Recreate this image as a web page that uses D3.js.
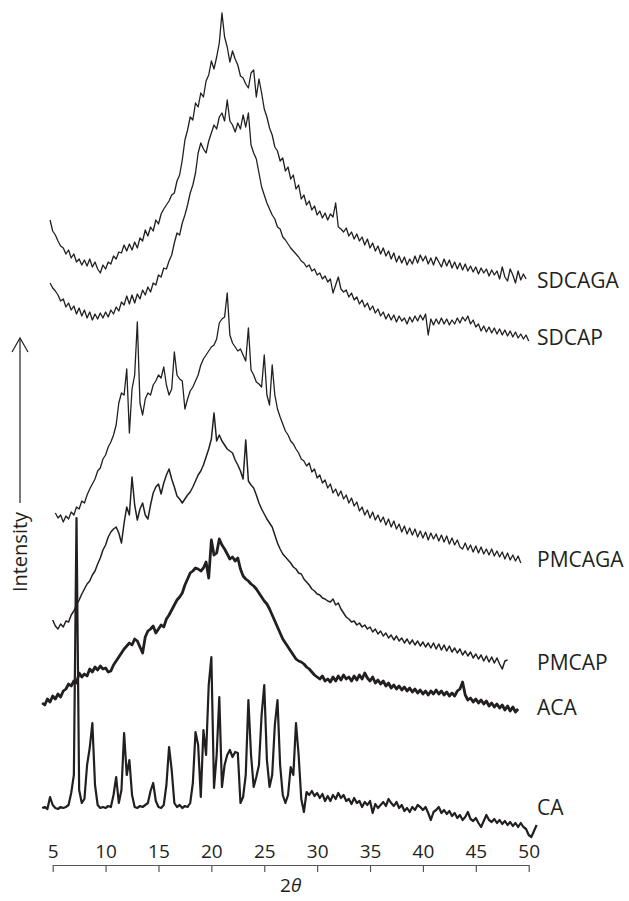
<!DOCTYPE html>
<html>
<head>
<meta charset="utf-8">
<script src="https://cdn.jsdelivr.net/npm/d3@7"></script>
<style>
  body { margin: 0; background: #fff; }
  svg text { font-family: "Open Sans", sans-serif; fill: #231f20; }
</style>
</head>
<body>
<div id="chart"></div>
<script>
// 2theta scan grid (deg)
const twoTheta = [
  4, 4.25, 4.5, 4.75, 5, 5.25, 5.5, 5.75, 6, 6.25, 6.5, 6.75, 7, 7.25, 7.5, 7.75,
  8, 8.25, 8.5, 8.75, 9, 9.25, 9.5, 9.75, 10, 10.25, 10.5, 10.75, 11, 11.25, 11.5, 11.75,
  12, 12.25, 12.5, 12.75, 13, 13.25, 13.5, 13.75, 14, 14.25, 14.5, 14.75, 15, 15.25, 15.5, 15.75,
  16, 16.25, 16.5, 16.75, 17, 17.25, 17.5, 17.75, 18, 18.25, 18.5, 18.75, 19, 19.25, 19.5, 19.75,
  20, 20.25, 20.5, 20.75, 21, 21.25, 21.5, 21.75, 22, 22.25, 22.5, 22.75, 23, 23.25, 23.5, 23.75,
  24, 24.25, 24.5, 24.75, 25, 25.25, 25.5, 25.75, 26, 26.25, 26.5, 26.75, 27, 27.25, 27.5, 27.75,
  28, 28.25, 28.5, 28.75, 29, 29.25, 29.5, 29.75, 30, 30.25, 30.5, 30.75, 31, 31.25, 31.5, 31.75,
  32, 32.25, 32.5, 32.75, 33, 33.25, 33.5, 33.75, 34, 34.25, 34.5, 34.75, 35, 35.25, 35.5, 35.75,
  36, 36.25, 36.5, 36.75, 37, 37.25, 37.5, 37.75, 38, 38.25, 38.5, 38.75, 39, 39.25, 39.5, 39.75,
  40, 40.25, 40.5, 40.75, 41, 41.25, 41.5, 41.75, 42, 42.25, 42.5, 42.75, 43, 43.25, 43.5, 43.75,
  44, 44.25, 44.5, 44.75, 45, 45.25, 45.5, 45.75, 46, 46.25, 46.5, 46.75, 47, 47.25, 47.5, 47.75,
  48, 48.25, 48.5, 48.75, 49, 49.25, 49.5, 49.75, 50, 50.25, 50.5, 50.75
];

// stacked intensities (a.u., offsets included), one row per degree
const sdcaga = [
  null,null,null,645, 634,630,624,619, 617,611,615,607, 611,603,606,600,
  605,599,606,598, 603,596,592,600, 596,603,601,609, 606,613,612,620,
  614,621,615,623, 617,627,624,635, 629,638,634,645, 641,651,656,660,
  664,670,672,684, 690,705,725,735, 748,745,762,758, 772,768,784,790,
  804,796,808,822, 852,828,818,803, 814,806,800,789, 787,781,777,792,
  795,768,786,772, 756,748,737,730, 718,714,704,707, 694,698,686,690,
  676,680,666,670, 660,664,655,659, 650,654,647,652, 645,651,648,662,
  638,636,633,637, 629,633,626,631, 624,628,620,626, 617,622,614,619,
  611,617,609,614, 606,612,603,609, 602,608,600,606, 601,609,602,610,
  604,609,601,607, 600,608,603,598, 606,599,605,597, 603,596,602,595,
  601,594,599,593, 598,591,597,592, 596,589,595,590, 594,586,598,588,
  584,596,590,582, 594,585,591,586, null,null,null,null
];
const sdcap = [
  null,null,null,582, 577,574,570,564, 566,558,562,555, 559,551,557,549,
  555,547,553,545, 551,546,552,547, 553,548,555,551, 558,554,563,560,
  569,561,570,562, 571,566,575,570, 578,573,582,580, 590,588,597,596,
  604,610,622,632, 630,642,650,660, 672,680,692,712, 722,716,712,724,
  732,740,736,748, 752,744,765,744, 740,733,742,736, 750,738,752,720,
  712,706,692,678, 670,662,656,650, 646,638,636,628, 625,621,617,614,
  611,608,604,602, 598,600,594,596, 590,592,586,589, 583,586,572,580,
  588,576,573,575, 568,572,565,568, 561,565,558,562, 555,559,552,556,
  549,553,546,551, 545,550,543,549, 544,547,541,548, 543,549,544,550,
  545,551,530,546, 540,546,541,547, 541,546,540,545, 541,547,542,548,
  544,549,541,545, 538,541,534,539, 533,538,532,537, 531,536,530,535,
  529,534,528,533, 527,531,526,530, 524,null,null,null
];
const pmcaga = [
  null,null,null,null, null,352,347,350, 343,349,346,353, 350,358,356,364,
  362,370,376,381, 386,394,397,406, 410,418,423,430, 440,462,472,470,
  496,432,476,490, 543,462,450,466, 472,470,480,484, 490,487,498,480,
  470,476,513,490, 486,484,456,466, 474,478,484,490, 500,506,510,514,
  518,520,526,542, 546,548,572,530, 522,518,514,516, 510,504,537,495,
  490,483,481,478, 510,470,460,500, 470,456,448,441, 434,430,424,421,
  416,412,406,404, 399,402,393,396, 387,390,382,385, 377,381,372,376,
  369,374,366,370, 362,367,359,363, 354,358,350,355, 347,353,345,350,
  343,348,340,346, 338,344,336,341, 333,339,331,337, 330,336,328,334,
  327,333,325,332, 326,331,324,330, 323,329,321,327, 320,325,318,316,
  322,315,320,313, 319,312,318,311, 316,310,316,309, 314,308,313,306,
  312,305,310,304, 309,302,null,null, null,null,null,null
];
const pmcap = [
  null,null,null,null, 245,239,236,241, 238,244,243,250, 254,260,265,271,
  276,281,284,290, 294,301,307,315, 320,328,333,336, 338,332,322,342,
  358,350,388,360, 345,356,362,350, 346,360,372,378, 381,371,382,390,
  396,386,378,369, 366,362,366,370, 373,378,384,390, 394,400,408,416,
  426,452,424,430, 424,420,416,414, 412,405,400,394, 386,425,384,380,
  377,370,362,356, 351,346,342,338, 330,322,316,311, 308,305,302,298,
  296,292,291,286, 283,280,276,274, 271,270,267,266, 264,263,266,260,
  262,256,252,248, 246,243,244,240, 242,238,240,236, 238,233,236,231,
  234,229,232,227, 230,225,229,224, 227,222,226,221, 225,220,224,219,
  223,218,222,217, 222,216,221,215, 220,214,219,213, 217,212,216,210,
  214,209,213,207, 211,206,210,204, 209,203,208,202, 207,201,196,204,
  205,null,null,null, null,null,null,null, null,null,null,null
];
const aca = [
  162,160,166,163, 169,166,171,168, 174,176,181,179, 184,182,192,188,
  191,189,196,193, 198,195,199,196, 197,193,194,200, 204,208,212,216,
  219,222,220,226, 224,218,212,228, 234,236,239,232, 236,240,238,246,
  250,255,260,265, 268,272,280,286, 292,294,297,296, 294,297,303,287,
  325,310,312,326, 320,316,311,306, 308,304,307,296, 289,286,284,281,
  279,276,272,268, 264,261,256,250, 244,238,232,226, 222,218,214,210,
  206,204,203,201, 198,196,193,190, 188,186,189,184, 186,183,188,184,
  189,185,190,186, 188,184,189,185, 190,186,192,187, 184,188,182,185,
  181,184,179,182, 177,180,176,179, 175,178,174,177, 173,176,172,175,
  171,174,170,174, 171,175,171,174, 170,173,169,172, 169,174,176,183,
  170,165,167,163, 166,162,165,161, 164,159,162,158, 161,157,160,155,
  159,154,158,153, 156,null,null,null, null,null,null,null
];
const ca = [
  57,58,56,68, 60,57,56,58, 57,58,60,72, 90,347,75,62,
  66,100,117,142, 80,60,57,58, 57,59,58,70, 88,62,75,132,
  90,105,70,58, 57,59,58,60, 62,74,82,64, 58,57,60,80,
  118,95,62,58, 60,57,59,58, 62,82,133,120, 68,135,110,180,
  208,77,110,168, 78,100,110,115, 108,113,112,62, 68,90,165,110,
  78,88,100,150, 180,105,78,90, 140,165,100,70, 62,70,98,90,
  142,110,66,53, 73,70,74,69, 72,67,71,64, 69,64,70,66,
  72,67,70,64, 66,61,67,62, 64,58,63,60, 64,52,61,57,
  60,63,59,66, 62,59,63,57, 60,54,57,53, 58,55,60,58,
  55,58,52,45, 53,55,58,52, 55,51,54,49, 52,47,50,45,
  48,53,46,44, 47,42,38,44, 50,45,43,46, 42,45,41,44,
  40,43,39,42, 38,42,38,36, 30,28,34,40
];

const seriesNames = ["SDCAGA", "SDCAP", "PMCAGA", "PMCAP", "ACA", "CA"];
const seriesValues = [sdcaga, sdcap, pmcaga, pmcap, aca, ca];
const labelLevels = [577, 520, 298, 195, 150, 50];
const xTicks = [5, 10, 15, 20, 25, 30, 35, 40, 45, 50];

const width = 629, height = 901;
const svg = d3.select("#chart").append("svg")
  .attr("width", width)
  .attr("height", height);

const x = d3.scaleLinear().domain([5, 50]).range([52.7, 528.7]);
const y = d3.scaleLinear().domain([0, 865]).range([865, 0]);

const strokes = [1.3, 1.3, 1.3, 1.5, 2.8, 2.2];

const line = d3.line()
  .defined(d => d[1] != null)
  .x(d => x(d[0]))
  .y(d => y(d[1]));

seriesValues.forEach((vals, i) => {
  const pts = twoTheta.map((t, j) => [t, vals[j]]);
  svg.append("path")
    .datum(pts)
    .attr("fill", "none")
    .attr("stroke", "#231f20")
    .attr("stroke-width", strokes[i])
    .attr("stroke-linejoin", "round")
    .attr("d", line);
  svg.append("text")
    .attr("x", 537)
    .attr("y", y(labelLevels[i]))
    .attr("font-size", 21)
    .text(seriesNames[i]);
});

// x axis: ticks hang below the line, numbers sit above it
const axis = svg.append("g")
  .attr("transform", `translate(0,${y(0)})`)
  .call(d3.axisTop(x).tickValues(xTicks).tickSizeInner(-7).tickSizeOuter(0).tickPadding(7));
axis.select(".domain").attr("stroke", "#555").attr("stroke-width", 1.2);
axis.selectAll(".tick line").attr("stroke", "#555").attr("stroke-width", 1.2);
axis.selectAll(".tick text")
  .attr("font-size", 19)
  .attr("font-family", "Open Sans, sans-serif")
  .attr("fill", "#231f20");

const xt = svg.append("text")
  .attr("x", (x(5) + x(50)) / 2)
  .attr("y", 892)
  .attr("text-anchor", "middle")
  .attr("font-size", 19);
xt.append("tspan").text("2");
xt.append("tspan").attr("font-style", "italic").text("θ");

// intensity arrow
svg.append("line")
  .attr("x1", 20).attr("x2", 20).attr("y1", 338).attr("y2", 503)
  .attr("stroke", "#231f20").attr("stroke-width", 1.2);
svg.append("path")
  .attr("d", "M12,352L20,338L28,352")
  .attr("fill", "none").attr("stroke", "#231f20").attr("stroke-width", 1.2);
svg.append("text")
  .attr("transform", "translate(27,552) rotate(-90)")
  .attr("text-anchor", "middle")
  .attr("font-size", 20)
  .text("Intensity");
</script>
</body>
</html>
